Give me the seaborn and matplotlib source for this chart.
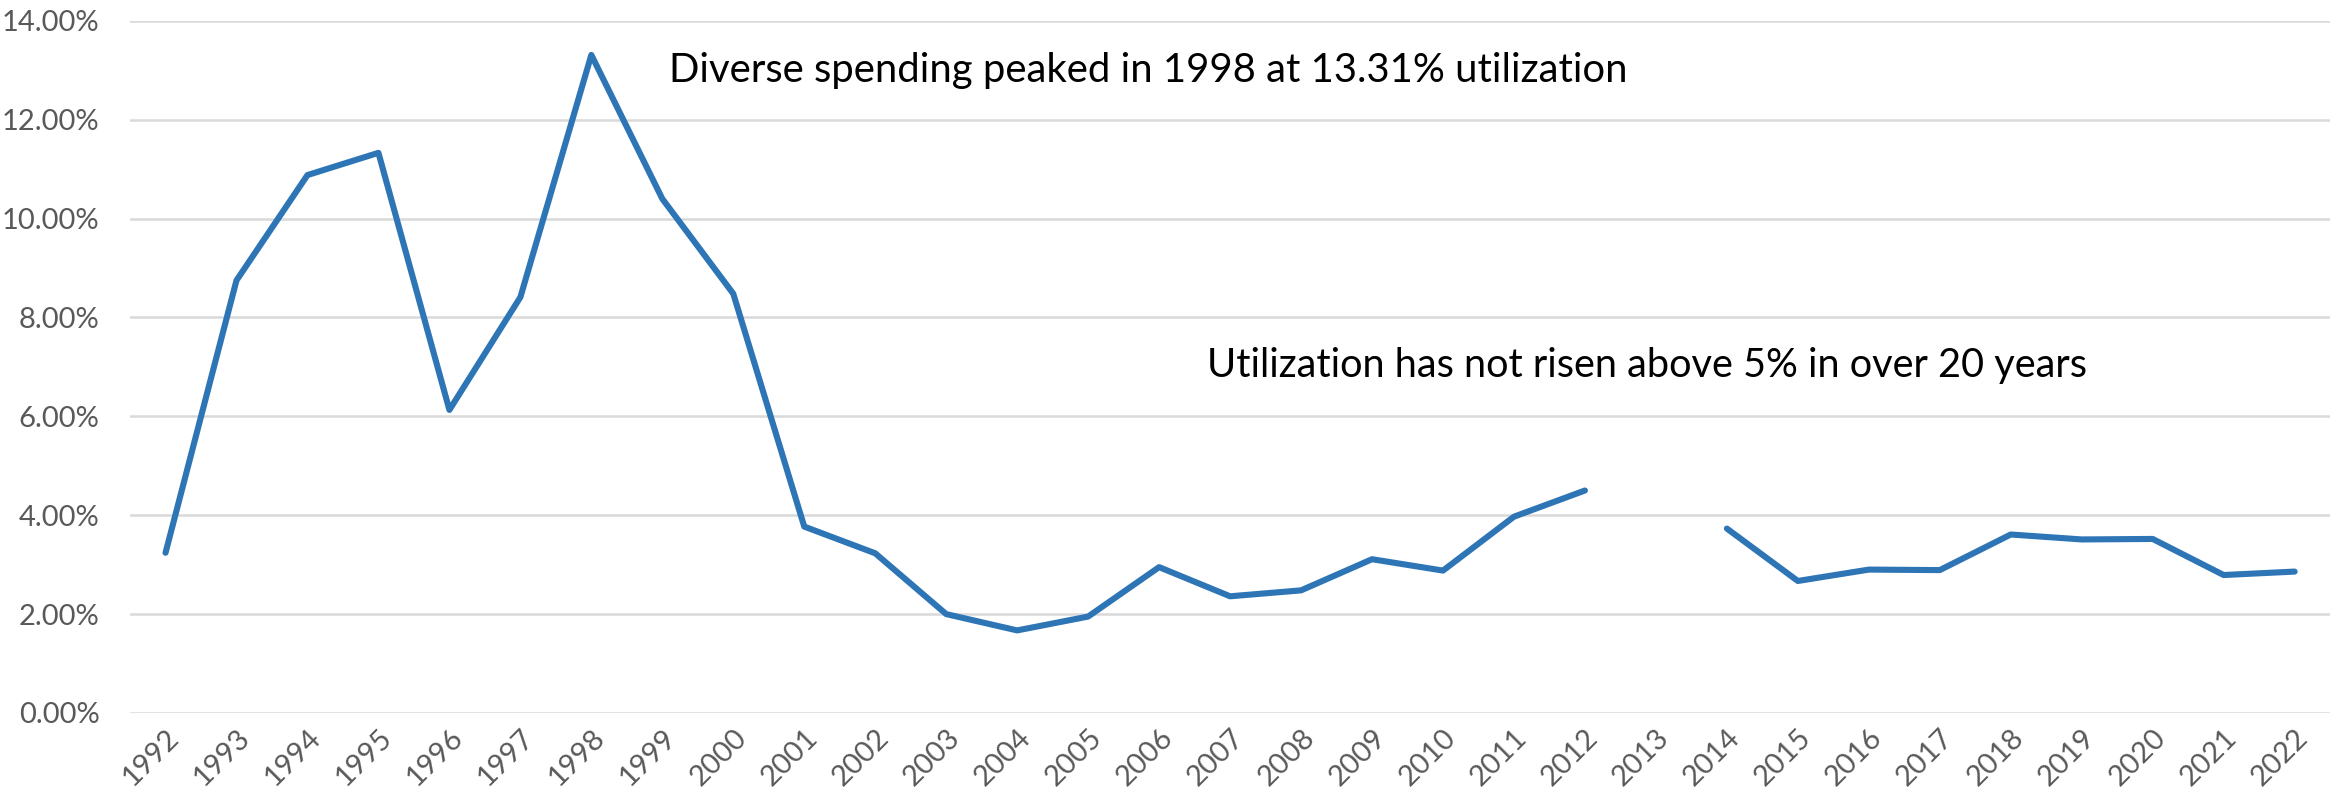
import numpy as np
import pandas as pd
import matplotlib
matplotlib.use("Agg")
import matplotlib.pyplot as plt
import seaborn as sns

years = [str(y) for y in range(1992, 2023)]
utilization = [3.24, 8.75, 10.88, 11.33, 6.13, 8.41, 13.31, 10.40, 8.48,
               3.77, 3.23, 2.00, 1.67, 1.95, 2.95, 2.36, 2.48, 3.11, 2.88,
               3.97, 4.50, np.nan, 3.73, 2.67, 2.90, 2.89, 3.61, 3.51, 3.52,
               2.79, 2.86]
y_ticks = [0, 2, 4, 6, 8, 10, 12, 14]
note_peak = "Diverse spending peaked in 1998 at 13.31% utilization"
note_flat = "Utilization has not risen above 5% in over 20 years"

sns.set_theme(style="white")
plt.rcParams["font.family"] = ["Lato", "DejaVu Sans"]

df = pd.DataFrame({"year": years, "pos": range(len(years)), "util": utilization})
df["segment"] = df["util"].isna().cumsum()
df = df.dropna()

fig = plt.figure(figsize=(23.43, 8.01), dpi=100)
ax = fig.add_axes([0.0555, 0.1099, 0.939, 0.8641])

sns.lineplot(data=df, x="pos", y="util", units="segment", estimator=None,
             color="#2E75B6", linewidth=4.4, ax=ax, solid_capstyle="round",
             solid_joinstyle="round")

ax.set_xlim(-0.5, len(years) - 0.5)
ax.set_ylim(0, 14)
ax.set_yticks(y_ticks)
ax.set_yticklabels([f"{v:.2f}%" for v in y_ticks], fontsize=21, color="#595959")
ax.set_xticks(range(len(years)))
ax.set_xticklabels(years, fontsize=21, color="#595959", rotation=45,
                   ha="right", rotation_mode="anchor")
ax.tick_params(axis="x", length=0, pad=8)
ax.tick_params(axis="y", length=0, pad=22)
ax.yaxis.grid(True, color="#D9D9D9", linewidth=1.8)
ax.xaxis.grid(False)
for s in ax.spines.values():
    s.set_visible(False)
ax.set_xlabel("")
ax.set_ylabel("")

ax.text(7.1, 13.0, note_peak, fontsize=28.8, color="black", ha="left", va="center")
ax.text(14.68, 7.02, note_flat, fontsize=28.6, color="black", ha="left", va="center")

fig.savefig("out.png", dpi=100)
